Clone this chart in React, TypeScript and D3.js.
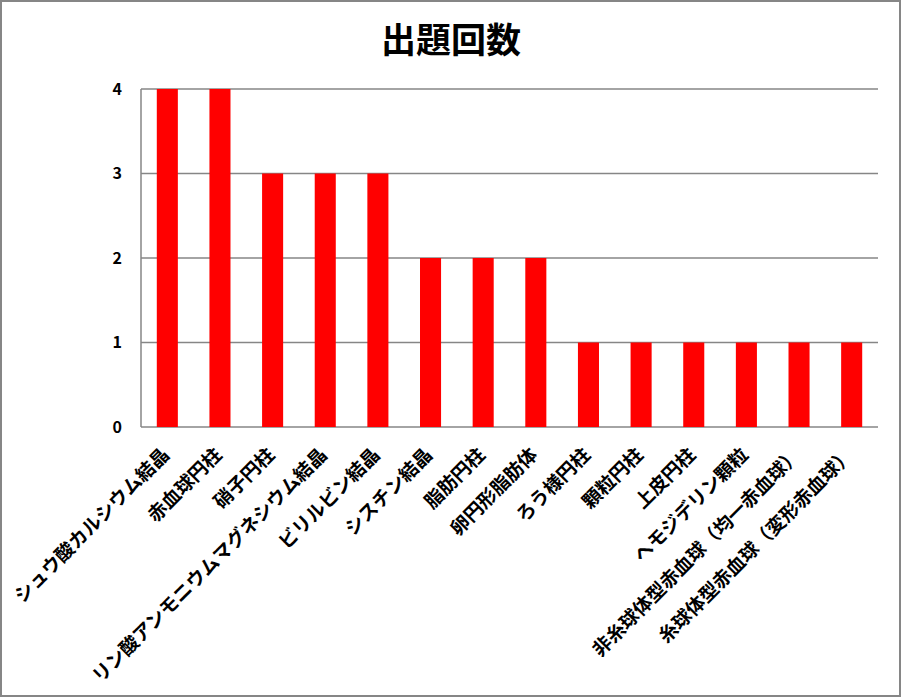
import React from "react";
import * as d3 from "d3";

const categories = [
  "シュウ酸カルシウム結晶",
  "赤血球円柱",
  "硝子円柱",
  "リン酸アンモニウムマグネシウム結晶",
  "ビリルビン結晶",
  "シスチン結晶",
  "脂肪円柱",
  "卵円形脂肪体",
  "ろう様円柱",
  "顆粒円柱",
  "上皮円柱",
  "ヘモジデリン顆粒",
  "非糸球体型赤血球（均一赤血球）",
  "糸球体型赤血球（変形赤血球）",
];
const counts = [4, 4, 3, 3, 3, 2, 2, 2, 1, 1, 1, 1, 1, 1];
const yTicks = [0, 1, 2, 3, 4];
const title = "出題回数";

const W = 902;
const H = 698;
const plot = { left: 141, right: 878, top: 89, bottom: 427 };
const FONT = "'Noto Sans CJK JP', 'Noto Sans', sans-serif";

export default function App() {
  const x = d3
    .scaleBand<string>()
    .domain(categories)
    .range([plot.left, plot.right])
    .paddingInner(0.6)
    .paddingOuter(0.3);
  const y = d3.scaleLinear().domain([0, 4]).range([plot.bottom, plot.top]);

  return (
    <div style={{ position: "absolute", left: 0, top: 0 }}>
      <svg width={W} height={H} style={{ display: "block" }}>
        <rect x={0} y={0} width={W} height={H} fill="#fff" />
        <rect x={1} y={1} width={W - 3} height={H - 3} fill="none" stroke="#868686" strokeWidth={2} />
        <text x={W / 2} y={53} textAnchor="middle" fontFamily={FONT} fontWeight={700} fontSize={35} fill="#000">
          {title}
        </text>
        {yTicks.map((t) => (
          <g key={t}>
            <line x1={plot.left} x2={plot.right} y1={y(t)} y2={y(t)} stroke="#868686" strokeWidth={1.5} />
            <text x={122} y={y(t)} dy="0.36em" textAnchor="end" fontFamily={FONT} fontWeight={700} fontSize={16} fill="#000">
              {t}
            </text>
          </g>
        ))}
        <line x1={plot.left} x2={plot.left} y1={plot.top} y2={plot.bottom} stroke="#868686" strokeWidth={1.5} />
        {categories.map((c, i) => (
          <rect key={c} x={x(c)} y={y(counts[i])} width={x.bandwidth()} height={y(0) - y(counts[i])} fill="#ff0000" />
        ))}
        {categories.map((c) => {
          const cx = (x(c) as number) + x.bandwidth() / 2 + 3;
          const cy = 456;
          return (
            <text
              key={c}
              x={cx}
              y={cy}
              transform={`rotate(-45 ${cx} ${cy})`}
              textAnchor="end"
              fontFamily={FONT}
              fontWeight={700}
              fontSize={19}
              fill="#000"
            >
              {c}
            </text>
          );
        })}
      </svg>
    </div>
  );
}
